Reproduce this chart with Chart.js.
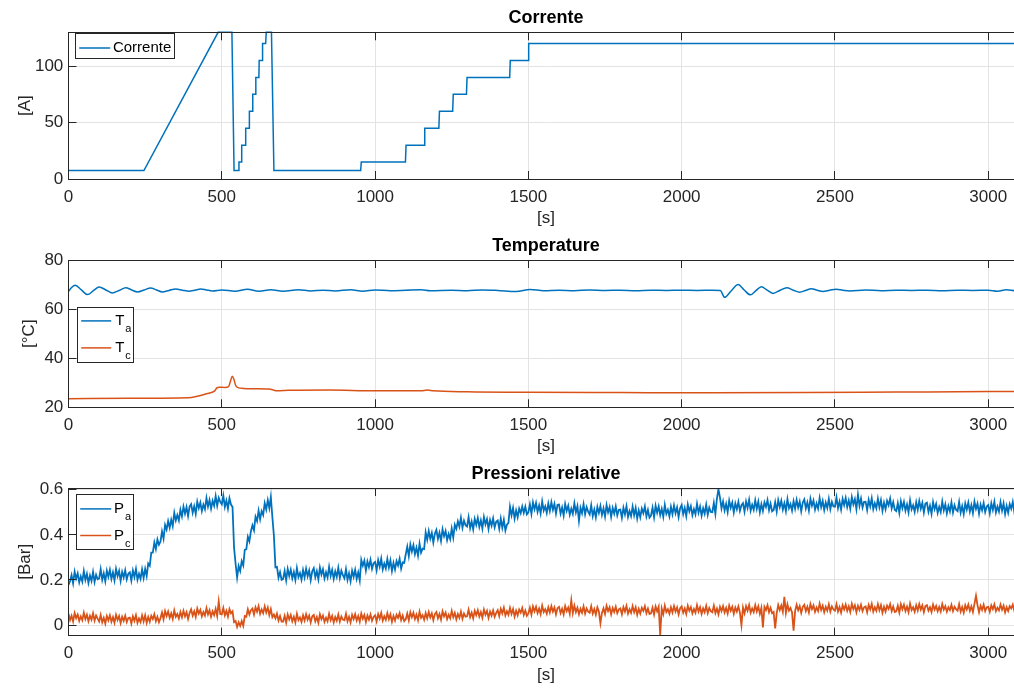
<!DOCTYPE html>
<html>
<head>
<meta charset="utf-8">
<script src="https://cdn.jsdelivr.net/npm/chart.js@4.4.1/dist/chart.umd.min.js"></script>
<style>
  html, body { margin: 0; padding: 0; background: #fff; overflow: hidden; width: 1014px; height: 688px; }
  canvas { position: absolute; left: 0; }
</style>
</head>
<body>
<canvas id="panelCurrent"></canvas>
<canvas id="panelTemp"></canvas>
<canvas id="panelPress"></canvas>
<script>
// ---- data ----------------------------------------------------------------
const timeTicks = [0, 500, 1000, 1500, 2000, 2500, 3000];
const currentTicks = [0, 50, 100];
const tempTicks = [20, 40, 60, 80];
const pressTicks = [0, 0.2, 0.4, 0.6];

// Current set-point profile [s] / [A]
const currentTime = [0, 246, 488, 533, 540, 555, 556, 564, 565, 577, 578, 589, 590, 600, 601, 610, 611, 621, 622, 632,
  633, 643, 645, 662, 670, 953, 955, 1099, 1101, 1160, 1162, 1208, 1210, 1253, 1255, 1298, 1300, 1439, 1441, 1499, 1501, 3115];
const currentA = [7.5, 7.5, 130, 130, 7.5, 7.5, 15, 15, 30, 30, 45, 45, 60, 60, 75, 75, 90, 90, 105, 105,
  120, 120, 130, 130, 7.5, 7.5, 15, 15, 30, 30, 45, 45, 60, 60, 75, 75, 90, 90, 105, 105, 120, 120];

// Anode temperature [s] / [°C]
const taTime = [0, 10, 22, 42, 62, 82, 100, 122, 143, 165, 187, 206, 225, 247, 268, 287, 306, 328, 350, 372,
  393, 412, 431, 450, 470, 500, 543, 584, 621, 660, 700, 750, 790, 830, 870, 920, 960, 1000, 1050, 1100,
  1150, 1180, 1250, 1300, 1350, 1400, 1460, 1506, 1550, 1600, 1650, 1700, 1750, 1800, 1850, 1900, 1950, 2000, 2050, 2100,
  2126, 2140, 2162, 2184, 2204, 2224, 2242, 2260, 2279, 2298, 2320, 2343, 2364, 2385, 2404, 2423, 2442, 2461, 2483, 2504,
  2526, 2548, 2600, 2650, 2700, 2750, 2800, 2850, 2900, 2950, 3000, 3030, 3059, 3090, 3115];
const taVal = [67.2, 68.8, 69.7, 67.8, 65.9, 67.6, 69.0, 67.8, 66.6, 67.6, 68.7, 67.8, 67.0, 67.8, 68.6, 67.8, 67.0, 67.6, 68.2, 67.7,
  67.3, 67.7, 68.2, 67.8, 67.4, 67.8, 67.3, 68.1, 67.3, 67.9, 67.3, 67.9, 67.4, 67.7, 67.4, 67.9, 67.3, 67.8, 67.5, 67.7,
  67.9, 67.5, 67.7, 67.5, 67.8, 67.6, 67.2, 68.0, 67.5, 67.7, 67.5, 67.8, 67.6, 67.7, 67.5, 67.7, 67.6, 67.7, 67.6, 67.7,
  67.6, 64.8, 67.5, 70.0, 67.8, 65.8, 67.5, 69.1, 67.7, 66.4, 67.6, 68.7, 67.7, 66.9, 67.6, 68.3, 67.7, 67.2, 67.7, 68.1,
  67.7, 67.4, 67.8, 67.5, 67.7, 67.6, 67.7, 67.5, 67.7, 67.6, 67.7, 67.3, 67.9, 67.5, 67.7];

// Cathode temperature [s] / [°C]
const tcTime = [0, 200, 390, 420, 450, 477, 484, 492, 510, 522, 528, 534, 539, 545, 553, 570, 610, 655, 668, 680,
  720, 850, 1000, 1150, 1170, 1190, 1300, 1500, 1800, 2100, 2400, 2700, 3000, 3115];
const tcVal = [23.5, 23.7, 23.9, 24.5, 25.5, 26.7, 27.9, 28.2, 28.1, 28.4, 30.5, 32.6, 31.6, 29.0, 28.0, 27.7, 27.6, 27.5, 27.0, 26.7,
  26.9, 27.0, 26.7, 26.7, 27.0, 26.7, 26.3, 26.1, 26.0, 25.9, 26.0, 26.2, 26.4, 26.4];

// Relative pressures, one sample every 5 s [bar] (20 samples per row = 100 s)
const pressStepS = 5;
const pressA = [
  0.178, 0.194, 0.221, 0.185, 0.237, 0.206, 0.229, 0.189, 0.216, 0.193, 0.240, 0.200, 0.227, 0.187, 0.220, 0.196, 0.236, 0.191, 0.223, 0.203,
  0.207, 0.248, 0.200, 0.229, 0.194, 0.241, 0.214, 0.245, 0.205, 0.234, 0.198, 0.249, 0.217, 0.240, 0.196, 0.236, 0.211, 0.243, 0.203, 0.228,
  0.234, 0.197, 0.242, 0.213, 0.249, 0.201, 0.227, 0.205, 0.247, 0.209, 0.249, 0.217, 0.273, 0.263, 0.321, 0.321, 0.366, 0.337, 0.380, 0.356,
  0.370, 0.415, 0.383, 0.444, 0.423, 0.461, 0.432, 0.467, 0.439, 0.498, 0.464, 0.488, 0.464, 0.511, 0.482, 0.525, 0.494, 0.523, 0.483, 0.525,
  0.536, 0.498, 0.527, 0.493, 0.547, 0.518, 0.543, 0.505, 0.534, 0.513, 0.563, 0.525, 0.554, 0.516, 0.551, 0.529, 0.572, 0.529, 0.564, 0.546,
  0.535, 0.574, 0.524, 0.552, 0.516, 0.562, 0.534, 0.523, 0.343, 0.272, 0.211, 0.262, 0.240, 0.283, 0.264, 0.334, 0.336, 0.391, 0.371, 0.416,
  0.442, 0.420, 0.480, 0.461, 0.507, 0.469, 0.505, 0.488, 0.540, 0.512, 0.554, 0.519, 0.568, 0.478, 0.396, 0.256, 0.258, 0.210, 0.235, 0.201,
  0.205, 0.240, 0.198, 0.249, 0.218, 0.246, 0.207, 0.235, 0.200, 0.253, 0.213, 0.231, 0.202, 0.244, 0.211, 0.250, 0.216, 0.242, 0.199, 0.238,
  0.252, 0.212, 0.239, 0.203, 0.255, 0.224, 0.247, 0.207, 0.234, 0.211, 0.258, 0.218, 0.245, 0.205, 0.238, 0.214, 0.254, 0.209, 0.241, 0.221,
  0.207, 0.248, 0.200, 0.229, 0.194, 0.241, 0.214, 0.245, 0.205, 0.234, 0.198, 0.289, 0.263, 0.286, 0.242, 0.282, 0.257, 0.289, 0.249, 0.274,
  0.280, 0.243, 0.288, 0.259, 0.295, 0.247, 0.273, 0.251, 0.293, 0.255, 0.287, 0.240, 0.276, 0.246, 0.284, 0.264, 0.294, 0.250, 0.278, 0.276,
  0.313, 0.348, 0.306, 0.357, 0.326, 0.354, 0.315, 0.343, 0.308, 0.361, 0.321, 0.339, 0.337, 0.411, 0.378, 0.417, 0.383, 0.409, 0.366, 0.405,
  0.422, 0.382, 0.409, 0.373, 0.425, 0.394, 0.417, 0.377, 0.404, 0.381, 0.428, 0.388, 0.445, 0.427, 0.460, 0.436, 0.476, 0.431, 0.463, 0.443,
  0.437, 0.478, 0.430, 0.459, 0.424, 0.471, 0.444, 0.475, 0.435, 0.464, 0.428, 0.479, 0.447, 0.470, 0.426, 0.466, 0.441, 0.473, 0.433, 0.458,
  0.464, 0.427, 0.472, 0.431, 0.467, 0.419, 0.445, 0.453, 0.525, 0.487, 0.519, 0.472, 0.508, 0.478, 0.516, 0.496, 0.526, 0.497, 0.525, 0.491,
  0.500, 0.535, 0.493, 0.544, 0.513, 0.541, 0.502, 0.530, 0.495, 0.548, 0.508, 0.526, 0.497, 0.539, 0.506, 0.545, 0.511, 0.537, 0.494, 0.533,
  0.534, 0.494, 0.521, 0.485, 0.537, 0.506, 0.529, 0.489, 0.516, 0.493, 0.540, 0.500, 0.527, 0.462, 0.520, 0.496, 0.536, 0.491, 0.523, 0.503,
  0.490, 0.531, 0.483, 0.512, 0.477, 0.524, 0.497, 0.528, 0.488, 0.517, 0.481, 0.532, 0.500, 0.523, 0.479, 0.519, 0.494, 0.526, 0.486, 0.511,
  0.512, 0.475, 0.520, 0.491, 0.527, 0.479, 0.505, 0.483, 0.525, 0.487, 0.519, 0.472, 0.508, 0.478, 0.516, 0.496, 0.526, 0.482, 0.510, 0.476,
  0.485, 0.520, 0.478, 0.529, 0.498, 0.526, 0.487, 0.515, 0.480, 0.533, 0.493, 0.511, 0.482, 0.524, 0.491, 0.530, 0.496, 0.522, 0.479, 0.518,
  0.532, 0.492, 0.519, 0.483, 0.535, 0.504, 0.527, 0.487, 0.514, 0.491, 0.538, 0.498, 0.525, 0.485, 0.518, 0.494, 0.534, 0.489, 0.521, 0.501,
  0.500, 0.541, 0.493, 0.560, 0.602, 0.565, 0.517, 0.548, 0.508, 0.537, 0.501, 0.552, 0.520, 0.543, 0.499, 0.539, 0.514, 0.546, 0.506, 0.531,
  0.540, 0.503, 0.548, 0.519, 0.555, 0.507, 0.533, 0.511, 0.553, 0.515, 0.547, 0.500, 0.536, 0.506, 0.544, 0.524, 0.554, 0.510, 0.538, 0.504,
  0.510, 0.545, 0.503, 0.554, 0.523, 0.551, 0.512, 0.540, 0.505, 0.558, 0.518, 0.536, 0.507, 0.549, 0.516, 0.555, 0.521, 0.547, 0.504, 0.543,
  0.557, 0.517, 0.544, 0.508, 0.560, 0.529, 0.552, 0.512, 0.539, 0.516, 0.563, 0.523, 0.550, 0.510, 0.543, 0.519, 0.559, 0.514, 0.546, 0.526,
  0.525, 0.566, 0.518, 0.547, 0.512, 0.559, 0.532, 0.563, 0.523, 0.552, 0.516, 0.567, 0.535, 0.558, 0.514, 0.578, 0.529, 0.561, 0.521, 0.546,
  0.547, 0.510, 0.555, 0.526, 0.562, 0.514, 0.540, 0.518, 0.560, 0.522, 0.554, 0.507, 0.543, 0.513, 0.551, 0.531, 0.561, 0.517, 0.545, 0.511,
  0.505, 0.540, 0.498, 0.549, 0.518, 0.546, 0.507, 0.535, 0.500, 0.553, 0.513, 0.531, 0.502, 0.544, 0.511, 0.550, 0.516, 0.542, 0.499, 0.538,
  0.542, 0.502, 0.529, 0.493, 0.545, 0.514, 0.537, 0.497, 0.524, 0.501, 0.548, 0.508, 0.535, 0.495, 0.528, 0.504, 0.544, 0.499, 0.531, 0.511,
  0.505, 0.546, 0.498, 0.527, 0.492, 0.539, 0.512, 0.543, 0.503, 0.532, 0.496, 0.547, 0.515, 0.538, 0.494, 0.534, 0.509, 0.541, 0.501, 0.526,
  0.532, 0.495, 0.540, 0.511, 0.547, 0.499, 0.525, 0.503, 0.545, 0.507, 0.539, 0.492, 0.528, 0.498, 0.536, 0.516, 0.546, 0.502, 0.530, 0.496,
  0.500, 0.535, 0.493];
const pressC = [
  0.050, 0.022, 0.041, 0.016, 0.053, 0.031, 0.047, 0.019, 0.038, 0.022, 0.055, 0.027, 0.046, 0.017, 0.041, 0.024, 0.052, 0.020, 0.043, 0.029,
  0.016, 0.045, 0.012, 0.032, 0.007, 0.040, 0.021, 0.043, 0.015, 0.035, 0.010, 0.046, 0.023, 0.040, 0.009, 0.037, 0.019, 0.042, 0.014, 0.031,
  0.033, 0.007, 0.039, 0.019, 0.044, 0.010, 0.029, 0.013, 0.043, 0.016, 0.043, 0.010, 0.036, 0.015, 0.041, 0.027, 0.048, 0.017, 0.037, 0.013,
  0.031, 0.056, 0.026, 0.062, 0.040, 0.060, 0.032, 0.052, 0.027, 0.065, 0.037, 0.049, 0.029, 0.058, 0.035, 0.063, 0.039, 0.057, 0.027, 0.054,
  0.070, 0.042, 0.061, 0.036, 0.073, 0.051, 0.067, 0.039, 0.058, 0.042, 0.075, 0.047, 0.066, 0.037, 0.061, 0.044, 0.072, 0.040, 0.105, 0.049,
  0.047, 0.076, 0.043, 0.063, 0.038, 0.071, 0.052, 0.061, 0.013, 0.018, -0.008, 0.012, -0.004, 0.018, -0.003, 0.040, 0.037, 0.070, 0.047, 0.066,
  0.073, 0.047, 0.079, 0.059, 0.084, 0.050, 0.069, 0.053, 0.083, 0.056, 0.078, 0.045, 0.071, 0.035, 0.047, 0.030, 0.051, 0.020, 0.040, 0.016,
  0.016, 0.041, 0.011, 0.047, 0.025, 0.045, 0.017, 0.037, 0.012, 0.050, 0.022, 0.034, 0.014, 0.043, 0.020, 0.048, 0.024, 0.042, 0.012, 0.039,
  0.045, 0.017, 0.036, 0.011, 0.048, 0.026, 0.042, 0.014, 0.033, 0.017, 0.050, 0.022, 0.041, 0.012, 0.036, 0.019, 0.047, 0.015, 0.038, 0.024,
  0.021, 0.050, 0.017, 0.037, 0.012, 0.045, 0.026, 0.048, 0.020, 0.040, 0.015, 0.051, 0.028, 0.045, 0.014, 0.042, 0.024, 0.047, 0.019, 0.036,
  0.043, 0.017, 0.049, 0.029, 0.054, 0.020, 0.039, 0.023, 0.053, 0.026, 0.048, 0.015, 0.041, 0.020, 0.046, 0.032, 0.053, 0.022, 0.042, 0.018,
  0.026, 0.051, 0.021, 0.057, 0.035, 0.055, 0.027, 0.047, 0.022, 0.060, 0.032, 0.044, 0.024, 0.053, 0.030, 0.058, 0.034, 0.052, 0.022, 0.049,
  0.058, 0.030, 0.049, 0.024, 0.061, 0.039, 0.055, 0.027, 0.046, 0.030, 0.063, 0.035, 0.054, 0.025, 0.049, 0.032, 0.060, 0.028, 0.051, 0.037,
  0.039, 0.068, 0.035, 0.055, 0.030, 0.063, 0.044, 0.066, 0.038, 0.058, 0.033, 0.069, 0.046, 0.063, 0.032, 0.060, 0.042, 0.065, 0.037, 0.054,
  0.066, 0.040, 0.072, 0.052, 0.077, 0.043, 0.062, 0.046, 0.076, 0.049, 0.071, 0.038, 0.064, 0.043, 0.069, 0.055, 0.076, 0.045, 0.065, 0.041,
  0.052, 0.077, 0.047, 0.083, 0.061, 0.081, 0.053, 0.073, 0.048, 0.086, 0.058, 0.070, 0.050, 0.079, 0.056, 0.084, 0.060, 0.078, 0.048, 0.075,
  0.081, 0.053, 0.072, 0.047, 0.084, 0.062, 0.078, 0.050, 0.110, 0.053, 0.086, 0.058, 0.077, 0.048, 0.072, 0.055, 0.083, 0.051, 0.074, 0.060,
  0.055, 0.084, 0.051, 0.071, 0.046, 0.079, 0.060, 0.008, 0.054, 0.074, 0.049, 0.085, 0.062, 0.079, 0.048, 0.076, 0.058, 0.081, 0.053, 0.070,
  0.074, 0.048, 0.080, 0.060, 0.085, 0.051, 0.070, 0.054, 0.084, 0.057, 0.079, 0.046, 0.072, 0.051, 0.077, 0.063, 0.084, 0.053, 0.073, 0.049,
  0.052, 0.077, 0.047, 0.083, 0.061, 0.081, -0.044, 0.073, 0.048, 0.086, 0.058, 0.070, 0.050, 0.079, 0.056, 0.084, 0.060, 0.078, 0.048, 0.075,
  0.083, 0.055, 0.074, 0.049, 0.086, 0.064, 0.080, 0.052, 0.071, 0.055, 0.088, 0.060, 0.079, 0.050, 0.074, 0.057, 0.085, 0.053, 0.076, 0.062,
  0.057, 0.086, 0.053, 0.073, 0.048, 0.081, 0.062, 0.084, 0.056, 0.076, 0.051, 0.087, 0.064, 0.081, 0.050, 0.078, 0.060, 0.083, 0.055, 0.000,
  0.078, 0.052, 0.084, 0.064, 0.089, 0.055, 0.074, 0.058, 0.088, 0.061, 0.083, 0.050, 0.076, -0.010, 0.081, 0.067, 0.088, 0.057, 0.077, 0.053,
  0.058, -0.015, 0.053, 0.089, 0.067, 0.087, 0.059, 0.125, 0.054, 0.092, 0.064, 0.076, 0.056, -0.025, 0.062, 0.090, 0.066, 0.084, 0.054, 0.081,
  0.090, 0.062, 0.081, 0.056, 0.093, 0.071, 0.087, 0.059, 0.078, 0.062, 0.095, 0.067, 0.086, 0.057, 0.081, 0.064, 0.092, 0.060, 0.083, 0.069,
  0.064, 0.093, 0.060, 0.080, 0.055, 0.088, 0.069, 0.091, 0.063, 0.083, 0.058, 0.094, 0.071, 0.088, 0.057, 0.085, 0.067, 0.090, 0.062, 0.079,
  0.083, 0.057, 0.089, 0.069, 0.094, 0.060, 0.079, 0.063, 0.093, 0.066, 0.088, 0.055, 0.081, 0.060, 0.086, 0.072, 0.093, 0.062, 0.082, 0.058,
  0.061, 0.086, 0.056, 0.092, 0.070, 0.090, 0.062, 0.082, 0.057, 0.095, 0.067, 0.079, 0.059, 0.088, 0.065, 0.093, 0.069, 0.087, 0.057, 0.084,
  0.088, 0.064, 0.079, 0.058, 0.091, 0.069, 0.085, 0.061, 0.080, 0.060, 0.093, 0.069, 0.084, 0.059, 0.079, 0.066, 0.090, 0.062, 0.081, 0.071,
  0.064, 0.093, 0.060, 0.080, 0.055, 0.088, 0.069, 0.091, 0.063, 0.083, 0.058, 0.094, 0.130, 0.088, 0.057, 0.085, 0.067, 0.090, 0.062, 0.079,
  0.081, 0.059, 0.087, 0.071, 0.092, 0.062, 0.077, 0.065, 0.091, 0.068, 0.086, 0.057, 0.079, 0.062, 0.084, 0.074, 0.091, 0.064, 0.080, 0.060,
  0.061, 0.086, 0.056];

const currentLegend = [['Corrente', '']];
const tempLegend = [['T', 'a'], ['T', 'c']];
const pressLegend = [['P', 'a'], ['P', 'c']];

// ---- styling ---------------------------------------------------------------
const BLUE = '#0072BD';
const ORANGE = '#D95319';
const AXIS = '#262626';
const GRID = '#e3e3e3';
const FONT = '"Liberation Sans", Arial, Helvetica, sans-serif';
const TIME_MAX = 3115;
const CANVAS_W = 1024;
const AREA_LEFT = 68.5;
const TICK_PX = 17;
const TITLE_PX = 18;

Chart.defaults.font.family = FONT;
Chart.defaults.color = AXIS;

const pts = (xs, ys) => ys.map((y, i) => ({ x: xs[i], y }));
const sampled = (ys, step) => ys.map((y, i) => ({ x: i * step, y }));

// axes box with MATLAB-style inward tick marks
const axesFrame = {
  id: 'axesFrame',
  afterDatasetsDraw(chart) {
    const { ctx, chartArea: a, scales } = chart;
    const c = v => Math.floor(v) + 0.5;
    ctx.save();
    ctx.strokeStyle = AXIS;
    ctx.lineWidth = 1;
    ctx.strokeRect(c(a.left), c(a.top), c(a.right) - c(a.left), c(a.bottom) - c(a.top));
    const len = 8;
    ctx.beginPath();
    scales.x.ticks.forEach(t => {
      const px = c(scales.x.getPixelForValue(t.value));
      ctx.moveTo(px, a.bottom); ctx.lineTo(px, a.bottom - len);
      ctx.moveTo(px, a.top); ctx.lineTo(px, a.top + len);
    });
    scales.y.ticks.forEach(t => {
      const py = c(scales.y.getPixelForValue(t.value));
      ctx.moveTo(a.left, py); ctx.lineTo(a.left + len, py);
      ctx.moveTo(a.right, py); ctx.lineTo(a.right - len, py);
    });
    ctx.stroke();
    ctx.restore();
  }
};

// boxed legend with subscript support
const boxLegend = {
  id: 'boxLegend',
  afterDraw(chart, args, o) {
    if (!o || !o.items) return;
    const { ctx, chartArea: a } = chart;
    const x0 = Math.floor(a.left + o.dx) + 0.5;
    const y0 = Math.floor(a.top + o.dy) + 0.5;
    ctx.save();
    ctx.fillStyle = '#fff';
    ctx.fillRect(x0, y0, o.w, o.h);
    ctx.strokeStyle = AXIS;
    ctx.lineWidth = 1;
    ctx.strokeRect(x0, y0, o.w, o.h);
    chart.data.datasets.forEach((ds, i) => {
      const ry = y0 + o.rows[i];
      ctx.strokeStyle = ds.borderColor;
      ctx.lineWidth = 1.5;
      ctx.beginPath();
      ctx.moveTo(x0 + o.lineX[0], ry);
      ctx.lineTo(x0 + o.lineX[1], ry);
      ctx.stroke();
      const [main, sub] = o.items[i];
      ctx.fillStyle = '#000';
      ctx.textAlign = 'left';
      ctx.textBaseline = 'middle';
      ctx.font = o.size + 'px ' + FONT;
      ctx.fillText(main, x0 + o.textX, ry);
      if (sub) {
        const w = ctx.measureText(main).width;
        ctx.font = o.subSize + 'px ' + FONT;
        ctx.textBaseline = 'alphabetic';
        ctx.fillText(sub, x0 + o.textX + w + 1, ry + o.subDrop);
      }
    });
    ctx.restore();
  }
};

function buildPanel(id, g, cfg) {
  const cv = document.getElementById(id);
  cv.width = CANVAS_W;
  cv.height = g.h;
  cv.style.top = g.top + 'px';
  const areaTop = g.areaTop - g.top;
  const areaBot = g.areaBottom - g.top;
  const lh = TICK_PX * 1.2;
  const tlh = TITLE_PX * 1.2;
  const titleMid = g.titleBase - g.top - 0.35 * TITLE_PX;
  const titlePadTop = titleMid - tlh / 2;
  const xTitleMid = g.areaBottom + 39.5 - g.top;

  return new Chart(cv, {
    type: 'line',
    data: { datasets: cfg.datasets },
    options: {
      responsive: false,
      animation: false,
      devicePixelRatio: 1,
      events: [],
      layout: { padding: { left: 0, right: CANVAS_W - 1023.5, top: 0, bottom: 0 } },
      elements: { point: { radius: 0 } },
      plugins: {
        legend: { display: false },
        tooltip: { enabled: false },
        title: {
          display: true, text: cfg.title, fullSize: false, color: '#000',
          font: { size: TITLE_PX, weight: 'bold' },
          padding: { top: titlePadTop, bottom: areaTop - titlePadTop - tlh }
        },
        boxLegend: cfg.legend
      },
      scales: {
        x: {
          type: 'linear', min: 0, max: TIME_MAX,
          afterBuildTicks: s => { s.ticks = timeTicks.map(v => ({ value: v })); },
          afterFit: s => { s.height = g.h - areaBot; },
          grid: { color: GRID, drawTicks: false },
          border: { display: false },
          ticks: { font: { size: TICK_PX }, color: AXIS, padding: 18 - lh / 2, maxRotation: 0, autoSkip: false,
                   callback: v => String(v) },
          title: { display: true, text: '[s]', font: { size: TICK_PX }, color: AXIS,
                   padding: { top: 0, bottom: g.h - xTitleMid - lh / 2 } }
        },
        y: {
          type: 'linear', min: cfg.yMin, max: cfg.yMax,
          afterBuildTicks: s => { s.ticks = cfg.yTicks.map(v => ({ value: v })); },
          afterFit: s => { s.width = AREA_LEFT; },
          grid: { color: GRID, drawTicks: false },
          border: { display: false },
          ticks: { font: { size: TICK_PX }, color: AXIS, padding: 5.2, autoSkip: false,
                   callback: v => String(v) },
          title: { display: true, text: cfg.yTitle, font: { size: TICK_PX }, color: AXIS,
                   padding: { top: g.yTitleX - lh / 2, bottom: 0 } }
        }
      }
    },
    plugins: [axesFrame, boxLegend]
  });
}

const lineStyle = (label, color, extra) => Object.assign({
  label, borderColor: color, backgroundColor: color, borderWidth: 1.5,
  pointRadius: 0, fill: false, tension: 0
}, extra || {});

buildPanel('panelCurrent',
  { top: 0, h: 229, areaTop: 32.3, areaBottom: 179, titleBase: 24, yTitleX: 25 },
  {
    title: 'Corrente', yTitle: '[A]', yMin: 0, yMax: 130, yTicks: currentTicks,
    datasets: [lineStyle('Corrente', BLUE, { data: pts(currentTime, currentA), clip: false })],
    legend: { items: currentLegend, dx: 6.8, dy: 1, w: 99, h: 25, rows: [14.5], lineX: [3.7, 34.7], textX: 37.4,
              size: 15, subSize: 11, subDrop: 11 }
  });

buildPanel('panelTemp',
  { top: 229, h: 229, areaTop: 260, areaBottom: 407.3, titleBase: 252.7, yTitleX: 29 },
  {
    title: 'Temperature', yTitle: '[°C]', yMin: 20, yMax: 80, yTicks: tempTicks,
    datasets: [
      lineStyle('Ta', BLUE, { data: pts(taTime, taVal), cubicInterpolationMode: 'monotone', borderWidth: 1.5 }),
      lineStyle('Tc', ORANGE, { data: pts(tcTime, tcVal), cubicInterpolationMode: 'monotone', borderWidth: 1.5 })
    ],
    legend: { items: tempLegend, dx: 8.8, dy: 47.3, w: 56, h: 55, rows: [13.4, 40.4], lineX: [3.7, 33.7], textX: 37.7,
              size: 15, subSize: 11, subDrop: 11 }
  });

buildPanel('panelPress',
  { top: 458, h: 230, areaTop: 488, areaBottom: 635.7, titleBase: 480, yTitleX: 25 },
  {
    title: 'Pressioni relative', yTitle: '[Bar]', yMin: -0.047, yMax: 0.6075, yTicks: pressTicks,
    datasets: [
      lineStyle('Pa', BLUE, { data: sampled(pressA, pressStepS), borderWidth: 1.8 }),
      lineStyle('Pc', ORANGE, { data: sampled(pressC, pressStepS), borderWidth: 1.8 })
    ],
    legend: { items: pressLegend, dx: 7.8, dy: 6.3, w: 57, h: 55, rows: [14.4, 41], lineX: [3.7, 34.7], textX: 37.5,
              size: 15, subSize: 11, subDrop: 11 }
  });
</script>
</body>
</html>
